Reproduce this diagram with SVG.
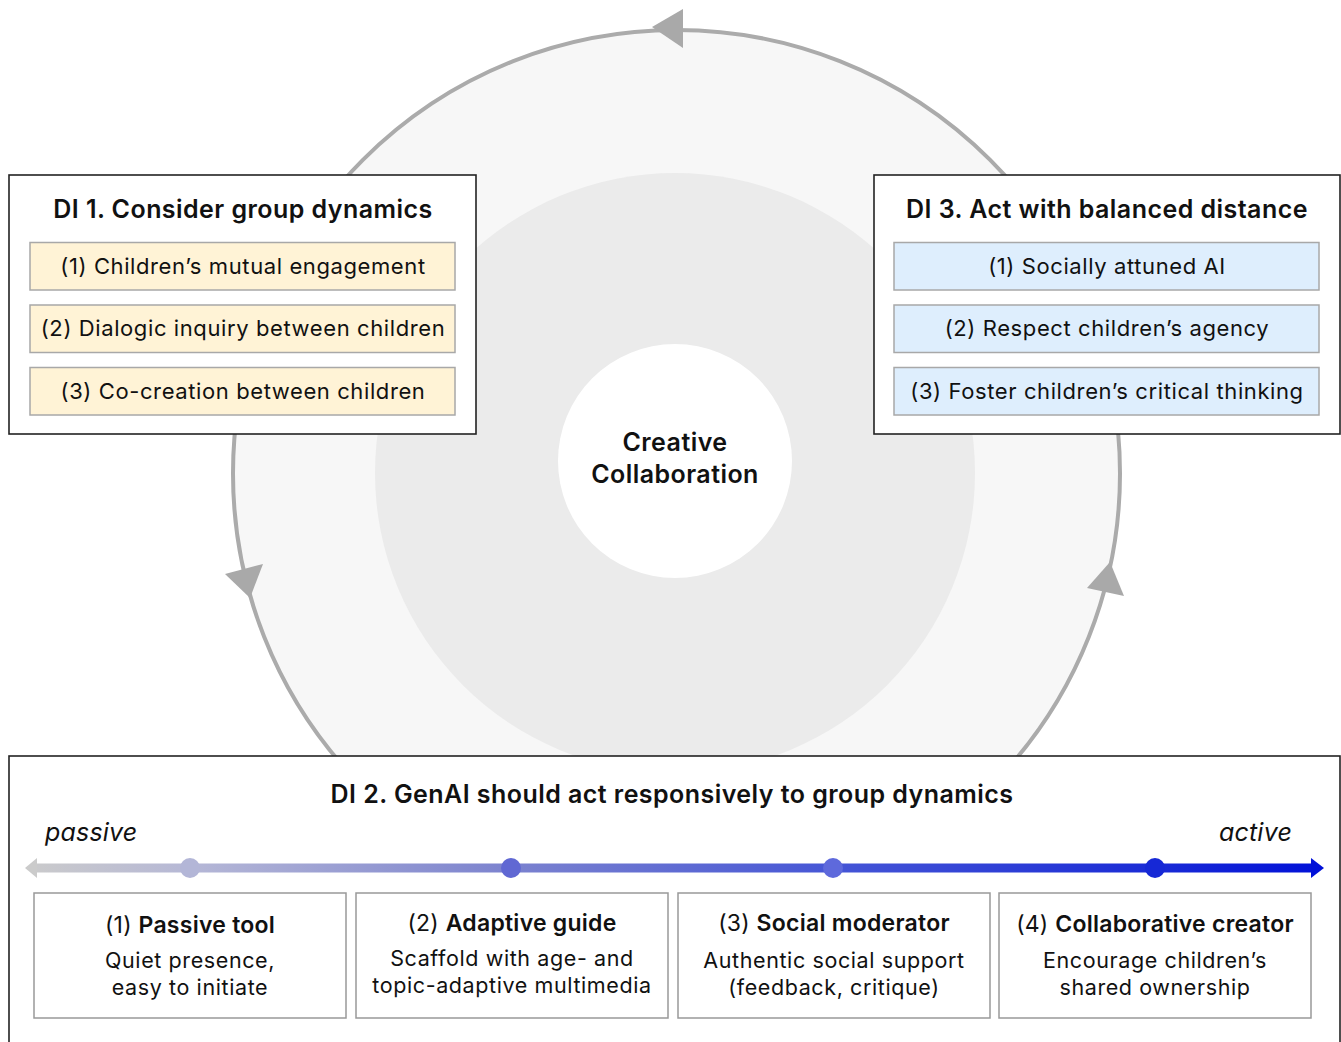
<svg xmlns="http://www.w3.org/2000/svg" width="1341" height="1042" viewBox="0 0 1341 1042">
  <defs>
    <style>
      text { font-family: Inter, "Noto Sans", "Liberation Sans", sans-serif; fill: #111; }
      .title { font-size: 25px; font-weight: 600; text-anchor: middle; letter-spacing: 0.45px; }
      .item { font-size: 22px; text-anchor: middle; letter-spacing: 0.6px; }
      .card-title { font-size: 23px; text-anchor: middle; letter-spacing: 0.25px; }
      .card-title tspan.b { font-weight: 600; }
      .card-body { font-size: 21.5px; text-anchor: middle; letter-spacing: 0.6px; }
      .panel { fill: #ffffff; stroke: #222; stroke-width: 1.6; }
      .warm { fill: #fff3d6; stroke: #a8a8a8; stroke-width: 1.5; }
      .cool { fill: #deeefd; stroke: #a8a8a8; stroke-width: 1.5; }
      .card { fill: #ffffff; stroke: #999; stroke-width: 1.5; }
      .ring { fill: none; stroke: #ababab; stroke-width: 4; }
      .head { fill: #a9a9a9; }
      .end-label { font-size: 25px; font-style: italic; letter-spacing: 0.2px; }
    </style>
    <linearGradient id="scale" gradientUnits="userSpaceOnUse" x1="25" y1="0" x2="1323" y2="0">
      <stop offset="0" stop-color="#cbcbcb"/>
      <stop offset="0.13" stop-color="#b5b7d6"/>
      <stop offset="0.37" stop-color="#7c83cf"/>
      <stop offset="0.62" stop-color="#4656d6"/>
      <stop offset="0.87" stop-color="#1a2bd6"/>
      <stop offset="1" stop-color="#0010d8"/>
    </linearGradient>
  </defs>

  <rect width="1341" height="1042" fill="#ffffff"/>

  <!-- background discs -->
  <circle cx="676.5" cy="473.5" r="443.5" fill="#f7f7f7"/>
  <circle cx="675" cy="473" r="300" fill="#ebebeb"/>

  <!-- cycle ring with direction heads -->
  <g id="connectors">
    <circle class="ring" cx="676.5" cy="473.5" r="443.5"/>
    <polygon class="head" points="652,27 683,9 683,48"/>
    <polygon class="head" points="250,598 225,574 263,564"/>
    <polygon class="head" points="1110,562 1087,588 1124,596"/>
  </g>

  <g id="center">
    <circle cx="675" cy="461" r="117" fill="#ffffff"/>
    <text class="title" x="675" y="451">Creative</text>
    <text class="title" x="675" y="483">Collaboration</text>
  </g>

  <g id="di1">
    <rect class="panel" x="9" y="175" width="467" height="259"/>
    <text class="title" x="243" y="218">DI 1. Consider group dynamics</text>
    <rect class="warm" x="30" y="242.5" width="425" height="47.5"/>
    <text class="item" x="243" y="273.5">(1) Children’s mutual engagement</text>
    <rect class="warm" x="30" y="305" width="425" height="47.5"/>
    <text class="item" x="243" y="336">(2) Dialogic inquiry between children</text>
    <rect class="warm" x="30" y="367.5" width="425" height="47.5"/>
    <text class="item" x="243" y="398.5">(3) Co-creation between children</text>
  </g>

  <g id="di3">
    <rect class="panel" x="874" y="175" width="466" height="259"/>
    <text class="title" x="1107" y="218">DI 3. Act with balanced distance</text>
    <rect class="cool" x="894" y="242.5" width="425" height="47.5"/>
    <text class="item" x="1107" y="273.5">(1) Socially attuned AI</text>
    <rect class="cool" x="894" y="305" width="425" height="47.5"/>
    <text class="item" x="1107" y="336">(2) Respect children’s agency</text>
    <rect class="cool" x="894" y="367.5" width="425" height="47.5"/>
    <text class="item" x="1107" y="398.5">(3) Foster children’s critical thinking</text>
  </g>

  <g id="di2">
    <rect class="panel" x="9" y="756" width="1331" height="300"/>
    <text class="title" x="672" y="803">DI 2. GenAI should act responsively to group dynamics</text>
    <text class="end-label" x="45" y="841">passive</text>
    <text class="end-label" x="1292" y="841" text-anchor="end">active</text>

    <!-- passive-to-active scale -->
    <rect x="35" y="863.5" width="1278" height="9" fill="url(#scale)"/>
    <polygon points="25,868 37,858 37,878" fill="#cbcbcb"/>
    <polygon points="1324,868 1311,858 1311,878" fill="#0010d8"/>
    <circle cx="190" cy="868" r="10" fill="#b3b6d7"/>
    <circle cx="511" cy="868" r="10" fill="#6068d3"/>
    <circle cx="833" cy="868" r="10" fill="#5e69dc"/>
    <circle cx="1155" cy="868" r="10" fill="#1628d6"/>
  </g>

  <g id="role1">
    <rect class="card" x="34" y="893" width="312" height="125"/>
    <text class="card-title" x="190" y="933">(1) <tspan class="b">Passive tool</tspan></text>
    <text class="card-body" x="190" y="968">Quiet presence,</text>
    <text class="card-body" x="190" y="995">easy to initiate</text>
  </g>
  <g id="role2">
    <rect class="card" x="356" y="893" width="312" height="125"/>
    <text class="card-title" x="512" y="931">(2) <tspan class="b">Adaptive guide</tspan></text>
    <text class="card-body" x="512" y="966">Scaffold with age- and</text>
    <text class="card-body" x="512" y="993">topic-adaptive multimedia</text>
  </g>
  <g id="role3">
    <rect class="card" x="678" y="893" width="312" height="125"/>
    <text class="card-title" x="834" y="931">(3) <tspan class="b">Social moderator</tspan></text>
    <text class="card-body" x="834" y="968">Authentic social support</text>
    <text class="card-body" x="834" y="995">(feedback, critique)</text>
  </g>
  <g id="role4">
    <rect class="card" x="999" y="893" width="312" height="125"/>
    <text class="card-title" x="1155" y="932">(4) <tspan class="b">Collaborative creator</tspan></text>
    <text class="card-body" x="1155" y="968">Encourage children’s</text>
    <text class="card-body" x="1155" y="995">shared ownership</text>
  </g>
</svg>
